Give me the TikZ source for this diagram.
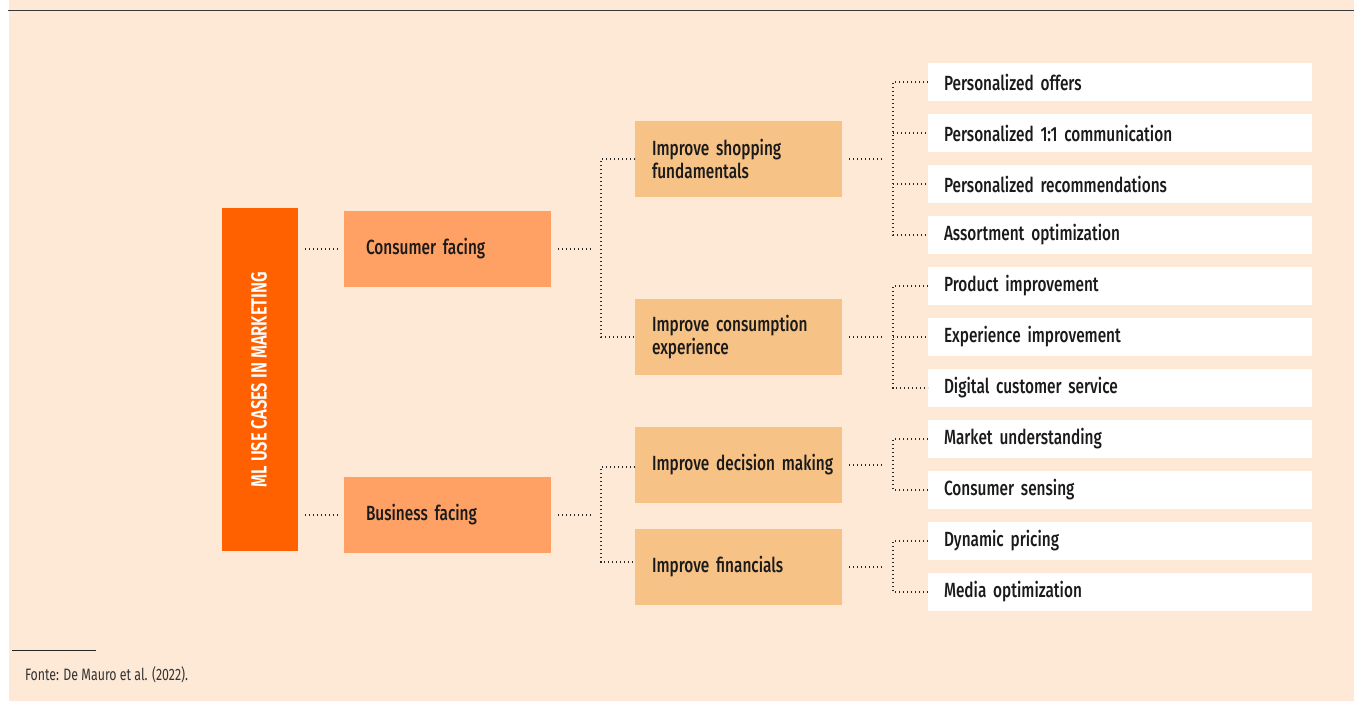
\documentclass[tikz,border=0pt]{standalone}
\usepackage{fontspec}
\setmainfont{Fira Sans Medium}[FakeStretch=0.75]
\newfontfamily\rootfont{Fira Sans SemiBold}[FakeStretch=0.75]
\newfontfamily\notefont{Fira Sans}[FakeStretch=0.75]
\definecolor{bgpeach}{HTML}{FEE9D7}
\definecolor{rootor}{HTML}{FF6100}
\definecolor{lvlone}{HTML}{FFA064}
\definecolor{lvltwo}{HTML}{F7C286}
\definecolor{txt}{HTML}{1A1A1A}
\definecolor{dotc}{HTML}{2A2A2A}
\begin{document}
\begin{tikzpicture}[x=1pt,y=-1pt,
  every node/.style={outer sep=0pt, text=txt},
  boxfont/.style={font=\fontsize{20.5}{23}\selectfont},
  rootbox/.style={fill=rootor, minimum width=76pt, minimum height=343pt, inner sep=0pt, anchor=north west},
  onebox/.style={fill=lvlone, minimum width=207pt, minimum height=76pt, inner xsep=22pt, inner ysep=0pt, text width=163pt, align=left, anchor=north west, boxfont},
  twobox/.style={fill=lvltwo, minimum width=207pt, minimum height=76pt, inner xsep=17pt, inner ysep=0pt, text width=173pt, align=left, anchor=north west, boxfont},
  leafbox/.style={fill=white, minimum width=384pt, minimum height=38pt, inner xsep=16pt, inner ysep=0pt, text width=352pt, align=left, anchor=north west, boxfont},
  conn/.style={draw=dotc, line width=1.1pt, dash pattern=on 1.1pt off 2.9pt}
]
\useasboundingbox (0,0) rectangle (1356,701);
\fill[bgpeach] (9,0) rectangle (1354,701);
\draw[line width=1.3pt, draw=black!78] (8,10.5) -- (1354,10.5);

% root
\node[rootbox] (root) at (222,208) {};
\node[rotate=90, text=white, font=\rootfont\fontsize{22}{24}\selectfont] (roottxt) at ([xshift=-1pt]root.center) {ML USE CASES IN MARKETING};

% level one
\node[onebox] (cons) at (344,211) {Consumer facing};
\node[onebox] (bus) at (344,477) {Business facing};

% level two
\node[twobox] (shop) at (635,121) {Improve shopping\\fundamentals};
\node[twobox] (cexp) at (635,299) {Improve consumption\\experience};
\node[twobox] (dec) at (635,427) {\mbox{Improve decision making}};
\node[twobox] (fin) at (635,529) {Improve financials};

% leaves
\node[leafbox] (l1) at (928,63) {Personalized offers};
\node[leafbox] (l2) at (928,114) {Personalized 1:1 communication};
\node[leafbox] (l3) at (928,165) {Personalized recommendations};
\node[leafbox] (l4) at (928,216) {Assortment optimization};
\node[leafbox] (l5) at (928,267) {Product improvement};
\node[leafbox] (l6) at (928,318) {Experience improvement};
\node[leafbox] (l7) at (928,369) {Digital customer service};
\node[leafbox] (l8) at (928,420) {Market understanding};
\node[leafbox] (l9) at (928,471) {Consumer sensing};
\node[leafbox] (l10) at (928,522) {Dynamic pricing};
\node[leafbox] (l11) at (928,573) {Media optimization};

% junction columns
\coordinate (ja) at (601,0);
\coordinate (jb) at (893,0);

% root -> level one
\draw[conn] ([xshift=7pt]root.east |- cons.west) -- ([xshift=-6pt]cons.west);
\draw[conn] ([xshift=7pt]root.east |- bus.west) -- ([xshift=-6pt]bus.west);

% level one -> level two
\draw[conn] ([xshift=7pt]cons.east) -- ([xshift=41pt]cons.east);
\draw[conn] (shop.west) -- (shop.west -| ja) -- (cexp.west -| ja) -- (cexp.west);
\draw[conn] ([xshift=7pt]bus.east) -- ([xshift=41pt]bus.east);
\draw[conn] ([yshift=-2pt]dec.west) -- ([yshift=-2pt]dec.west -| ja) -- ([yshift=5pt]fin.west -| ja) -- ([yshift=5pt]fin.west);

% level two -> leaves
\draw[conn] ([xshift=7pt]shop.east) -- ([xshift=40pt]shop.east);
\draw[conn] (l1.west) -- (l1.west -| jb) -- (l4.west -| jb) -- (l4.west);
\draw[conn] (l2.west -| jb) -- (l2.west);
\draw[conn] (l3.west -| jb) -- (l3.west);

\draw[conn] ([xshift=7pt]cexp.east) -- ([xshift=40pt]cexp.east);
\draw[conn] (l5.west) -- (l5.west -| jb) -- (l7.west -| jb) -- (l7.west);
\draw[conn] (l6.west -| jb) -- (l6.west);

\draw[conn] ([xshift=7pt]dec.east) -- ([xshift=40pt]dec.east);
\draw[conn] (l8.west) -- (l8.west -| jb) -- (l9.west -| jb) -- (l9.west);

\draw[conn] ([xshift=7pt]fin.east) -- ([xshift=40pt]fin.east);
\draw[conn] (l10.west) -- (l10.west -| jb) -- (l11.west -| jb) -- (l11.west);

% footnote
\draw[line width=1pt, draw=black!85] (12,650) -- (96,650);
\node[anchor=west, inner sep=0pt, text=black!80, font=\notefont\fontsize{16.5}{19}\selectfont] (src) at (25,675) {Fonte: De Mauro et al. (2022).};
\end{tikzpicture}
\end{document}
